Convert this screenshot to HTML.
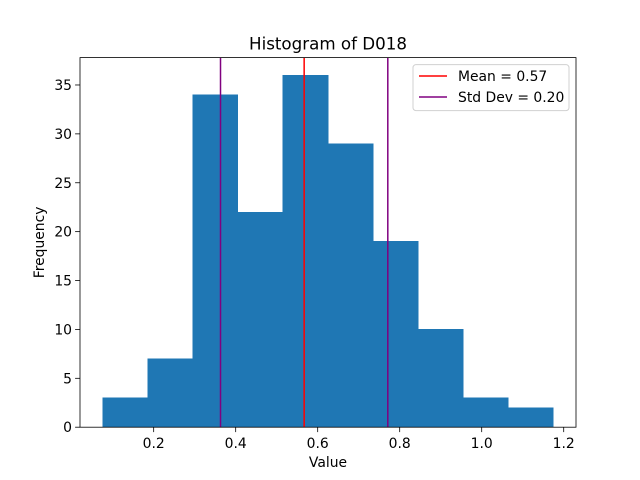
<!DOCTYPE html>
<html><head><meta charset="utf-8"><style>
body{margin:0;background:#fff;}
svg{display:block;font-family:"DejaVu Sans","Liberation Sans",sans-serif;}
</style></head><body>
<svg id="c" width="640" height="480" viewBox="0 0 640 480"></svg>
<script>
const binStart = 0.0753;
const binWidth = 0.10997;
const counts = [3,7,34,22,36,29,19,10,3,2];
const meanVal = 0.567;
const stdVal = 0.204;
const xTicks = [0.2,0.4,0.6,0.8,1.0,1.2];
const xTickLabels = ["0.2","0.4","0.6","0.8","1.0","1.2"];
const yTicks = [0,5,10,15,20,25,30,35];
const meanLabel = "Mean = 0.57";
const stdLabel = "Std Dev = 0.20";

const L=80,R=576,T=57.6,B=427.2;
const xmin=binStart-0.05*binWidth*counts.length, xmax=binStart+binWidth*counts.length+0.05*binWidth*counts.length;
const ymax=Math.max(...counts)*1.05;
const sx=v=>L+(v-xmin)/(xmax-xmin)*(R-L);
const sy=v=>B-v/ymax*(B-T);
const svg=document.getElementById('c');
const NS='http://www.w3.org/2000/svg';
function mk(tag,attrs,parent){const e=document.createElementNS(NS,tag);for(const k in attrs)e.setAttribute(k,attrs[k]);(parent||svg).appendChild(e);return e;}

const bars=mk('g',{'shape-rendering':'crispEdges'});


counts.forEach((c,i)=>{
  const x0=sx(binStart+i*binWidth),x1=sx(binStart+(i+1)*binWidth);
  const r=mk('rect',{x:x0,y:sy(c),width:x1-x0,height:B-sy(c),fill:'#1f77b4',stroke:'#1f77b4','stroke-width':0.5},bars);
  
  
});
function vline(v,col,name){
  const l=mk('line',{x1:sx(v),x2:sx(v),y1:T,y2:B,stroke:col,'stroke-width':1.5});
  
  
}
vline(meanVal,'red','mean-line');
vline(meanVal-stdVal,'purple','std-line-lower');
vline(meanVal+stdVal,'purple','std-line-upper');

const ax=mk('rect',{x:L,y:T,width:R-L,height:B-T,fill:'none',stroke:'#000','stroke-width':0.8});



xTicks.forEach((v,i)=>{
  const x=sx(v);
  mk('line',{x1:x,x2:x,y1:B,y2:B+4.9,stroke:'#000','stroke-width':0.8});
  const t=mk('text',{x:x,y:B+21,'text-anchor':'middle','font-size':13.9});
  t.textContent=xTickLabels[i];
  
  
});
yTicks.forEach(v=>{
  const y=sy(v);
  mk('line',{x1:L-4.9,x2:L,y1:y,y2:y,stroke:'#000','stroke-width':0.8});
  const t=mk('text',{x:L-8,y:y+5,'text-anchor':'end','font-size':13.9});
  t.textContent=String(v);
  
  
});
let t=mk('text',{x:(L+R)/2,y:B+40,'text-anchor':'middle','font-size':13.9});
t.textContent='Value';


t=mk('text',{x:44,y:(T+B)/2,'text-anchor':'middle','font-size':13.9,transform:'rotate(-90 44 '+((T+B)/2)+')'});
t.textContent='Frequency';


t=mk('text',{x:(L+R)/2,y:T-8,'text-anchor':'middle','font-size':16.7});
t.textContent='Histogram of D018';



const lg=mk('g',{});


mk('rect',{x:413,y:64.6,width:156,height:46,rx:3,fill:'#fff',stroke:'#ccc','stroke-width':1,opacity:0.9},lg);
[[meanLabel,'red',76],[stdLabel,'purple',97]].forEach(([lab,col,y],i)=>{
  mk('line',{x1:419,x2:447,y1:y,y2:y,stroke:col,'stroke-width':1.5},lg);
  const tx=mk('text',{x:458,y:y+5,'font-size':13.9},lg);
  tx.textContent=lab;
  
  
});
</script>
</body></html>
